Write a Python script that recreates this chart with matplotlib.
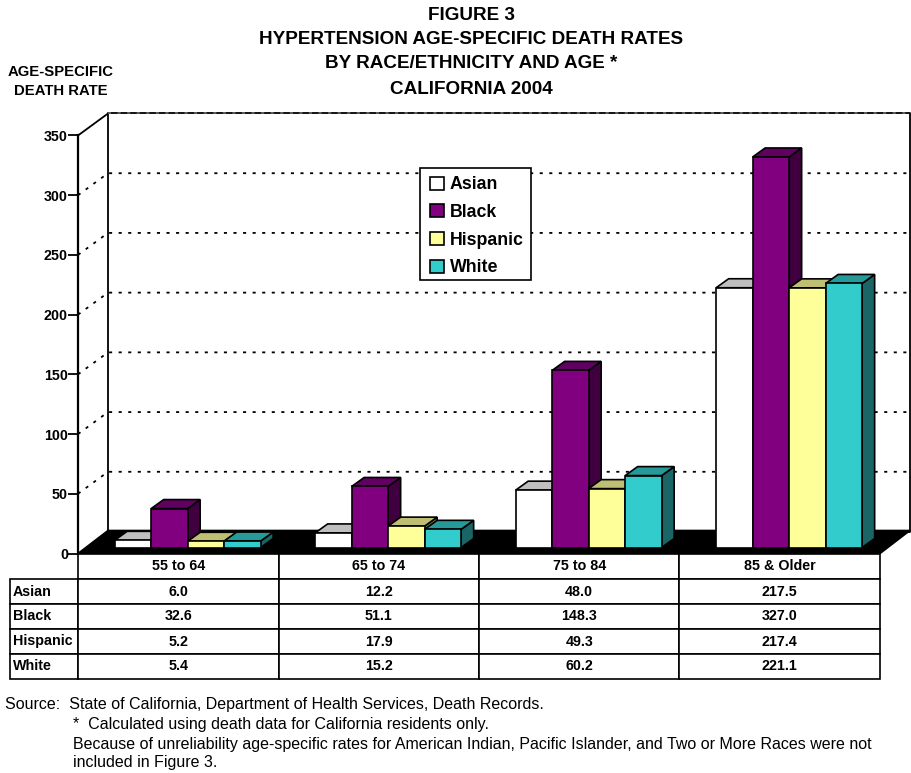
import matplotlib
matplotlib.use("Agg")
import matplotlib.pyplot as plt
from matplotlib.patches import Patch, Polygon, Rectangle

plt.rcParams['font.family'] = ['Liberation Sans', 'DejaVu Sans']

categories = ['55 to 64', '65 to 74', '75 to 84', '85 & Older']
asian = [6.0, 12.2, 48.0, 217.5]
black = [32.6, 51.1, 148.3, 327.0]
hispanic = [5.2, 17.9, 49.3, 217.4]
white = [5.4, 15.2, 60.2, 221.1]
series_names = ['Asian', 'Black', 'Hispanic', 'White']
yticks = [0, 50, 100, 150, 200, 250, 300, 350]

W, H = 911, 773
fig = plt.figure(figsize=(W / 100, H / 100), dpi=100)
L, R, T0, B0 = 78, 880, 135.5, 553.5
ax = fig.add_axes([L / W, 1 - B0 / H, (R - L) / W, (B0 - T0) / H])
ax.set_xlim(-0.5, 3.5)
ax.set_ylim(0, 350)
ax.patch.set_visible(False)
px_x = (R - L) / 4
px_y = (B0 - T0) / 350


def dx(p):
    return p / px_x


def dy(p):
    return p / px_y


for s in ['top', 'right', 'bottom']:
    ax.spines[s].set_visible(False)
ax.spines['left'].set_linewidth(1.6)
ax.set_xticks([])
ax.set_yticks(yticks)
ax.tick_params(axis='y', length=7.2, width=1.3, pad=0, labelsize=10.3)
for t in ax.get_yticklabels():
    t.set_fontweight('bold')

# 3-D frame
wx, wy = dx(30), dy(22)
x0, x1 = -0.5, 3.5
ax.plot([x0 + wx, x1 + wx, x1 + wx, x0 + wx, x0 + wx],
        [wy, wy, 350 + wy, 350 + wy, wy], color='k', lw=1.3, clip_on=False, zorder=1)
ax.plot([x0, x0 + wx], [350, 350 + wy], color='k', lw=1.3, clip_on=False, zorder=1)
dots = (0, (1.7, 3.6))
for v in yticks[1:-1]:
    ax.plot([x0, x0 + wx, x1 + wx], [v, v + wy, v + wy], color='k', lw=1.3,
            ls=dots, clip_on=False, zorder=1)
ax.plot([x0 + wx, x1 + wx], [350 + wy, 350 + wy], color='#666666', lw=1.3, ls=dots,
        clip_on=False, zorder=1.1)
ax.add_patch(Polygon([(x0, 0), (x1, 0), (x1 + wx, wy + dy(1)), (x0 + wx, wy + dy(1))], closed=True,
                     fc='k', ec='k', lw=1.2, clip_on=False, zorder=2))

# bars
series = [asian, black, hispanic, white]
faces = ['#FFFFFF', '#800080', '#FFFF99', '#33CCCC']
tops = ['#BFBFBF', '#600060', '#BFBF73', '#269999']
sides = ['#808080', '#400040', '#808050', '#1A6666']
bw = 36.5 / px_x
shift_x = dx(9.4)
base = dy(6)
bdx, bdy = dx(12.5), dy(9)
z = 3
for ci in range(len(categories)):
    for si, vals in enumerate(series):
        xl = ci + shift_x + (si - 2) * bw
        v = vals[ci]
        ax.add_patch(Polygon([(xl + bw, base), (xl + bw + bdx, base + bdy),
                              (xl + bw + bdx, base + v + bdy), (xl + bw, base + v)],
                             closed=True, fc=sides[si], ec='k', lw=1.2, clip_on=False, zorder=z))
        ax.add_patch(Polygon([(xl, base + v), (xl + bdx, base + v + bdy),
                              (xl + bw + bdx, base + v + bdy), (xl + bw, base + v)],
                             closed=True, fc=tops[si], ec='k', lw=1.2, clip_on=False, zorder=z))
        ax.bar(xl, v, width=bw, bottom=base, align='edge', color=faces[si], edgecolor='k',
               linewidth=1.2, clip_on=False, zorder=z + 0.5)
        z += 1

# data table
fmt = [[''] + categories] + [[n] + [f'{v:.1f}' for v in vals]
                             for n, vals in zip(series_names, series)]
TL, TT, TB = 9.5, 554, 679
tbl = ax.table(cellText=fmt, cellLoc='center',
               colWidths=[(L - TL) / W] + [(R - L) / 4 / W] * 4,
               bbox=[(TL - L) / (R - L), (B0 - TB) / (B0 - T0), (R - TL) / (R - L), (TB - TT) / (B0 - T0)])
tbl.auto_set_font_size(False)
tbl.set_zorder(200)
for (r, c), cell in tbl.get_celld().items():
    cell.set_linewidth(1.2)
    cell.get_text().set_fontsize(10.3)
    cell.get_text().set_fontweight('bold')
    cell.set_clip_on(False)
    if c == 0:
        cell.PAD = 0.05
        cell.get_text().set_ha('left')
    if r == 0 and c == 0:
        cell.visible_edges = ''

# legend
ax.add_patch(Rectangle(((420 - L) / (R - L), (B0 - 280) / (B0 - T0)), 111 / (R - L), 112 / (B0 - T0),
                       transform=ax.transAxes, fc='w', ec='k', lw=1.2, clip_on=False, zorder=299))
handles = [Patch(fc=f, ec='k', lw=1.2) for f in faces]
leg = ax.legend(handles, series_names, loc='upper left',
                bbox_to_anchor=((424 - L) / (R - L), (B0 - 170) / (B0 - T0)),
                prop={'weight': 'bold', 'size': 12.8}, frameon=False,
                handlelength=0.75, handleheight=0.75, handletextpad=0.35,
                labelspacing=0.6, borderaxespad=0, borderpad=0.36)
leg.set_zorder(300)


def txt(x, y, s, **kw):
    fig.text(x / W, 1 - y / H, s, va='center', **kw)


for y, s in zip([16, 40, 64, 89], ['FIGURE 3', 'HYPERTENSION AGE-SPECIFIC DEATH RATES',
                                    'BY RACE/ETHNICITY AND AGE *', 'CALIFORNIA 2004']):
    txt(471, y, s, ha='center', weight='bold', fontsize=13.6)
txt(60.5, 72, 'AGE-SPECIFIC', ha='center', weight='bold', fontsize=10.7)
txt(60.5, 91, 'DEATH RATE', ha='center', weight='bold', fontsize=10.7)
txt(5, 704, 'Source:  State of California, Department of Health Services, Death Records.', fontsize=11.52)
txt(73, 724, '*  Calculated using death data for California residents only.', fontsize=11.52)
txt(73, 744, 'Because of unreliability age-specific rates for American Indian, Pacific Islander, and Two or More Races were not', fontsize=11.52)
txt(73, 762, 'included in Figure 3.', fontsize=11.52)

fig.savefig('out.png', dpi=100)
